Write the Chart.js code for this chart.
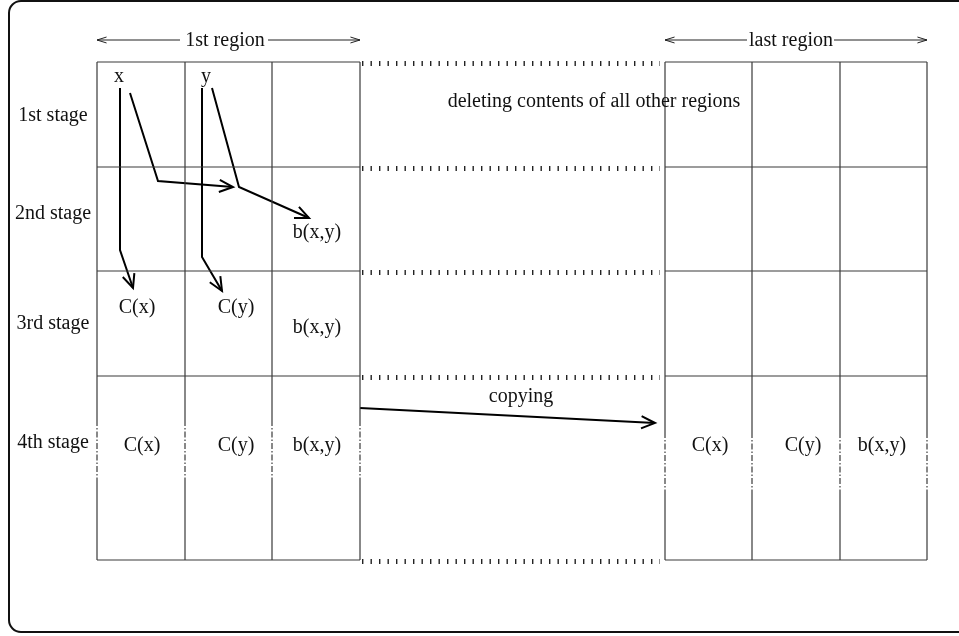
<!DOCTYPE html>
<html>
<head>
<meta charset="utf-8">
<script src="https://cdn.jsdelivr.net/npm/chart.js@4/dist/chart.umd.min.js"></script>
<style>
html,body{margin:0;padding:0;background:#fff;}
#wrap{width:959px;height:636px;position:relative;}
</style>
</head>
<body>
<div id="wrap"><canvas id="c" width="959" height="636"></canvas></div>
<script>
// ---- diagram data (diagram units) ----
const leftCols = [97, 185, 272, 360];
const rightCols = [665, 752, 840, 927];
const rows = [62, 167, 271, 376, 560];
const stageLabels = ['1st stage', '2nd stage', '3rd stage', '4th stage'];
const stageBaselines = [121, 219, 329, 448];
const leftDashDot = [420, 482];
const rightDashDot = [432, 494];
const gapStart = 362;
const gapEnd = 660;

const regionLabels = ['1st region', 'last region'];

// flow arrows (polylines), arrowhead at last point
const flowArrows = [
  [[120, 88], [120, 250], [133, 288]],
  [[130, 93], [158, 181], [233, 187]],
  [[202, 88], [202, 257], [222, 291]],
  [[212, 88], [239, 187], [309, 218]],
  [[360, 408], [655, 423]]
];

// cell texts: [text, centerX, baseline]
const cellTexts = [
  ['x', 119, 82], ['y', 206, 82],
  ['b(x,y)', 317, 238],
  ['C(x)', 137, 313], ['C(y)', 236, 313], ['b(x,y)', 317, 333],
  ['C(x)', 142, 451], ['C(y)', 236, 451], ['b(x,y)', 317, 451],
  ['C(x)', 710, 451], ['C(y)', 803, 451], ['b(x,y)', 882, 451],
  ['deleting contents of all other regions', 594, 107],
  ['copying', 521, 402]
];

// ---- build datasets ----
const datasets = [];
function seg(points, opts) {
  datasets.push(Object.assign({
    data: points.map(p => ({x: p[0], y: p[1]})),
    showLine: true, pointRadius: 0, borderColor: '#3a3a3a', borderWidth: 1.2,
    fill: false, tension: 0, borderCapStyle: 'butt', borderJoinStyle: 'miter'
  }, opts || {}));
}
function head(path, len, half, opts) {
  const a = path[path.length - 2], b = path[path.length - 1];
  const ang = Math.atan2(b[1] - a[1], b[0] - a[0]);
  const p1 = [b[0] - len * Math.cos(ang - half), b[1] - len * Math.sin(ang - half)];
  const p2 = [b[0] - len * Math.cos(ang + half), b[1] - len * Math.sin(ang + half)];
  seg([p1, b, p2], opts);
}

function grid(cols, dd) {
  const x0 = cols[0], x1 = cols[cols.length - 1];
  rows.forEach(r => seg([[x0, r], [x1, r]]));
  cols.forEach(c => {
    seg([[c, rows[0]], [c, dd[0]]]);
    seg([[c, dd[0]], [c, dd[1]]], {borderDash: [6, 2, 1.5, 2]});
    seg([[c, dd[1]], [c, rows[rows.length - 1]]]);
  });
}
grid(leftCols, leftDashDot);
grid(rightCols, rightDashDot);

// dotted tick lines across the gap
rows.forEach(r => seg([[gapStart, r + 1.5], [gapEnd, r + 1.5]],
  {borderWidth: 5, borderDash: [1.4, 7.1], borderColor: '#222'}));

// region span arrows
const spanY = 40;
function span(x0, x1, t0, t1) {
  seg([[x0, spanY], [t0, spanY]], {borderColor: '#222', borderWidth: 1});
  seg([[t1, spanY], [x1, spanY]], {borderColor: '#222', borderWidth: 1});
  head([[t0, spanY], [x0, spanY]], 10, 0.3, {borderColor: '#222', borderWidth: 1});
  head([[t1, spanY], [x1, spanY]], 10, 0.3, {borderColor: '#222', borderWidth: 1});
}
span(leftCols[0], leftCols[3], 180, 268);
span(rightCols[0], rightCols[3], 747, 834);

// flow arrows
flowArrows.forEach(p => {
  seg(p, {borderColor: '#000', borderWidth: 2});
  head(p, 15, 0.42, {borderColor: '#000', borderWidth: 2});
});

// ---- text + frame plugin ----
const FONT = '20px "Liberation Serif", "Times New Roman", serif';
const textPlugin = {
  id: 'texts',
  beforeDraw(chart) {
    const ctx = chart.ctx;
    ctx.save();
    ctx.fillStyle = '#fff';
    ctx.fillRect(0, 0, chart.width, chart.height);
    ctx.strokeStyle = '#111';
    ctx.lineWidth = 2;
    ctx.beginPath();
    ctx.roundRect(9, 1, 990, 631, 12);
    ctx.stroke();
    ctx.restore();
  },
  afterDatasetsDraw(chart) {
    const ctx = chart.ctx, sx = chart.scales.x, sy = chart.scales.y;
    ctx.save();
    ctx.font = FONT;
    ctx.fillStyle = '#111';
    ctx.textAlign = 'center';
    ctx.textBaseline = 'alphabetic';
    stageLabels.forEach((t, i) => ctx.fillText(t, sx.getPixelForValue(53), sy.getPixelForValue(stageBaselines[i])));
    ctx.fillText(regionLabels[0], sx.getPixelForValue(225), sy.getPixelForValue(46));
    ctx.fillText(regionLabels[1], sx.getPixelForValue(791), sy.getPixelForValue(46));
    cellTexts.forEach(t => ctx.fillText(t[0], sx.getPixelForValue(t[1]), sy.getPixelForValue(t[2])));
    ctx.restore();
  }
};

new Chart(document.getElementById('c'), {
  type: 'scatter',
  data: {datasets},
  options: {
    responsive: false,
    animation: false,
    devicePixelRatio: 1,
    layout: {padding: 0},
    plugins: {legend: {display: false}, tooltip: {enabled: false}},
    scales: {
      x: {type: 'linear', min: 0, max: 959, display: false},
      y: {type: 'linear', min: 0, max: 636, reverse: true, display: false}
    },
    events: []
  },
  plugins: [textPlugin]
});
</script>
</body>
</html>
